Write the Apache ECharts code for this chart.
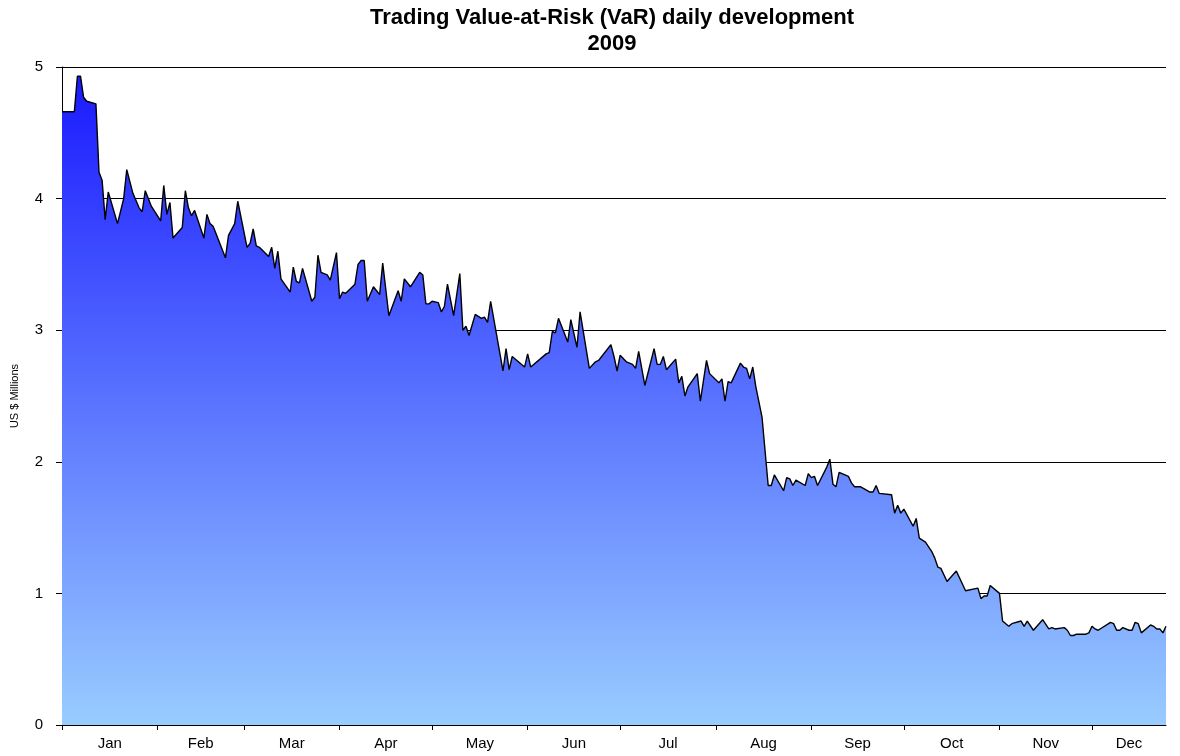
<!DOCTYPE html>
<html>
<head>
<meta charset="utf-8">
<title>Trading VaR 2009</title>
<script src="https://cdn.jsdelivr.net/npm/echarts@6.0.0/dist/echarts.min.js"></script>
<style>
  html, body { margin: 0; padding: 0; background: #fff; }
  #chart { width: 1180px; height: 756px; }
</style>
</head>
<body>
<div id="chart"></div>
<script>
// day of year (0 = Jan 1, 2009) for each reported trading day
var tradingDays = [
  0, 4, 5, 6, 7, 8, 11, 12, 13, 14, 15, 18, 20, 21, 23, 25, 26, 27, 29, 32,
  33, 34, 35, 36, 39, 40, 41, 42, 43, 46, 47, 48, 49, 53, 54, 56, 57, 60, 61, 62,
  63, 64, 67, 68, 69, 70, 71, 74, 75, 76, 77, 78, 81, 82, 83, 84, 86, 87, 89, 90,
  91, 92, 95, 96, 97, 98, 99, 101, 103, 104, 106, 109, 110, 111, 113, 116, 117, 118, 119, 120,
  122, 123, 124, 125, 127, 129, 130, 131, 132, 134, 136, 137, 138, 139, 143, 144, 145, 146, 150, 151,
  152, 157, 158, 159, 160, 161, 164, 165, 167, 168, 171, 173, 174, 178, 179, 180, 181, 183, 185, 186,
  187, 189, 192, 193, 194, 195, 196, 199, 200, 201, 202, 203, 206, 207, 209, 210, 213, 214, 215, 216,
  217, 220, 221, 222, 223, 224, 225, 227, 229, 230, 231, 234, 235, 236, 237, 238, 241, 242, 243, 244,
  245, 248, 249, 250, 251, 252, 255, 256, 257, 259, 262, 263, 264, 265, 269, 270, 271, 272, 273, 276,
  277, 278, 280, 282, 283, 284, 285, 287, 290, 293, 297, 298, 299, 300, 301, 304, 305, 307, 308, 311,
  312, 313, 315, 318, 320, 321, 322, 325, 326, 327, 328, 329, 332, 333, 334, 335, 336, 340, 341, 342,
  343, 344, 346, 347, 348, 349, 350, 353, 354, 355, 356, 357, 358
];

// trading VaR, US $ millions
var varMillions = [
  4.66, 4.66, 4.93, 4.93, 4.77, 4.74, 4.72, 4.20, 4.14, 3.84, 4.05, 3.81, 4.00, 4.22, 4.04, 3.93, 3.90, 4.06, 3.94, 3.83,
  4.10, 3.88, 3.97, 3.70, 3.78, 4.06, 3.93, 3.87, 3.91, 3.70, 3.88, 3.81, 3.79, 3.55, 3.72, 3.81, 3.98, 3.63, 3.66, 3.77,
  3.64, 3.63, 3.56, 3.63, 3.47, 3.60, 3.39, 3.29, 3.48, 3.37, 3.36, 3.47, 3.22, 3.25, 3.57, 3.44, 3.42, 3.38, 3.59, 3.24,
  3.29, 3.28, 3.35, 3.50, 3.53, 3.53, 3.22, 3.33, 3.27, 3.51, 3.11, 3.30, 3.22, 3.39, 3.33, 3.44, 3.42, 3.20, 3.20, 3.22,
  3.21, 3.14, 3.18, 3.35, 3.11, 3.43, 3.00, 3.03, 2.96, 3.12, 3.09, 3.10, 3.06, 3.22, 2.69, 2.86, 2.70, 2.80, 2.72, 2.82,
  2.72, 2.82, 2.83, 2.99, 2.98, 3.09, 2.91, 3.08, 2.87, 3.14, 2.71, 2.76, 2.77, 2.89, 2.80, 2.69, 2.81, 2.76, 2.74, 2.71,
  2.84, 2.58, 2.86, 2.74, 2.74, 2.80, 2.70, 2.78, 2.60, 2.65, 2.50, 2.57, 2.67, 2.46, 2.77, 2.67, 2.60, 2.63, 2.46, 2.61,
  2.60, 2.75, 2.72, 2.71, 2.63, 2.72, 2.57, 2.34, 1.82, 1.82, 1.90, 1.78, 1.88, 1.87, 1.82, 1.86, 1.82, 1.91, 1.88, 1.89,
  1.82, 1.96, 2.02, 1.83, 1.81, 1.92, 1.89, 1.84, 1.81, 1.81, 1.77, 1.77, 1.82, 1.76, 1.75, 1.61, 1.67, 1.61, 1.64, 1.51,
  1.57, 1.42, 1.39, 1.32, 1.27, 1.20, 1.19, 1.09, 1.17, 1.02, 1.04, 0.96, 0.98, 0.98, 1.06, 1.00, 0.79, 0.75, 0.77, 0.79,
  0.75, 0.79, 0.72, 0.80, 0.73, 0.74, 0.73, 0.74, 0.72, 0.68, 0.68, 0.69, 0.69, 0.70, 0.75, 0.73, 0.72, 0.78, 0.77, 0.72,
  0.72, 0.74, 0.72, 0.72, 0.78, 0.77, 0.70, 0.76, 0.75, 0.73, 0.73, 0.70, 0.75
];

var monthNames = ['Jan', 'Feb', 'Mar', 'Apr', 'May', 'Jun', 'Jul', 'Aug', 'Sep', 'Oct', 'Nov', 'Dec'];
var monthStarts = [0, 31, 59, 90, 120, 151, 181, 212, 243, 273, 304, 334];
var monthLabelAt = [15.5, 45, 74.5, 105, 135.5, 166, 196.5, 227.5, 258, 288.5, 319, 346];
var lastDay = 358;
var yTicks = [0, 1, 2, 3, 4, 5];

var seriesData = tradingDays.map(function (d, i) {
  return [d, varMillions[i]];
});

var chart = echarts.init(document.getElementById('chart'));

var option = {
  backgroundColor: '#fff',
  animation: false,
  textStyle: { fontFamily: 'Liberation Sans, Arial, sans-serif', color: '#000' },
  title: {
    text: 'Trading Value-at-Risk (VaR) daily development\n2009',
    left: 612,
    top: 5,
    padding: 0,
    textAlign: 'center',
    textStyle: {
      fontFamily: 'Liberation Sans, Arial, sans-serif',
      fontWeight: 'bold',
      fontSize: 22,
      lineHeight: 26,
      color: '#000'
    }
  },
  grid: { left: 62, right: 14, top: 67, bottom: 31, containLabel: false },
  xAxis: {
    type: 'value',
    min: 0,
    max: lastDay,
    axisLine: { show: true, onZero: false, lineStyle: { color: '#000', width: 1 } },
    axisTick: {
      show: true,
      customValues: monthStarts,
      length: 5,
      lineStyle: { color: '#000' }
    },
    axisLabel: {
      customValues: monthLabelAt,
      margin: 11,
      fontSize: 15,
      color: '#000',
      formatter: function (v) {
        var i = monthLabelAt.indexOf(v);
        return i >= 0 ? monthNames[i] : '';
      }
    },
    splitLine: { show: false }
  },
  yAxis: {
    type: 'value',
    min: yTicks[0],
    max: yTicks[yTicks.length - 1],
    interval: 1,
    name: 'US $ Millions',
    nameLocation: 'middle',
    nameGap: 42,
    nameTextStyle: { fontSize: 11, color: '#000' },
    axisLine: { show: true, lineStyle: { color: '#000', width: 1 } },
    axisTick: { show: true, length: 6, lineStyle: { color: '#000' } },
    axisLabel: { margin: 19, fontSize: 15, color: '#000' },
    splitLine: { show: true, lineStyle: { color: '#000', width: 1 } }
  },
  series: [
    {
      name: 'Trading VaR',
      type: 'line',
      data: seriesData,
      symbol: 'none',
      smooth: false,
      clip: true,
      lineStyle: { color: '#000', width: 1.4 },
      areaStyle: {
        opacity: 1,
        color: new echarts.graphic.LinearGradient(0, 0, 0, 1, [
          { offset: 0, color: '#1a1aff' },
          { offset: 1, color: '#99ccff' }
        ])
      }
    }
  ]
};

chart.setOption(option);
</script>
</body>
</html>
